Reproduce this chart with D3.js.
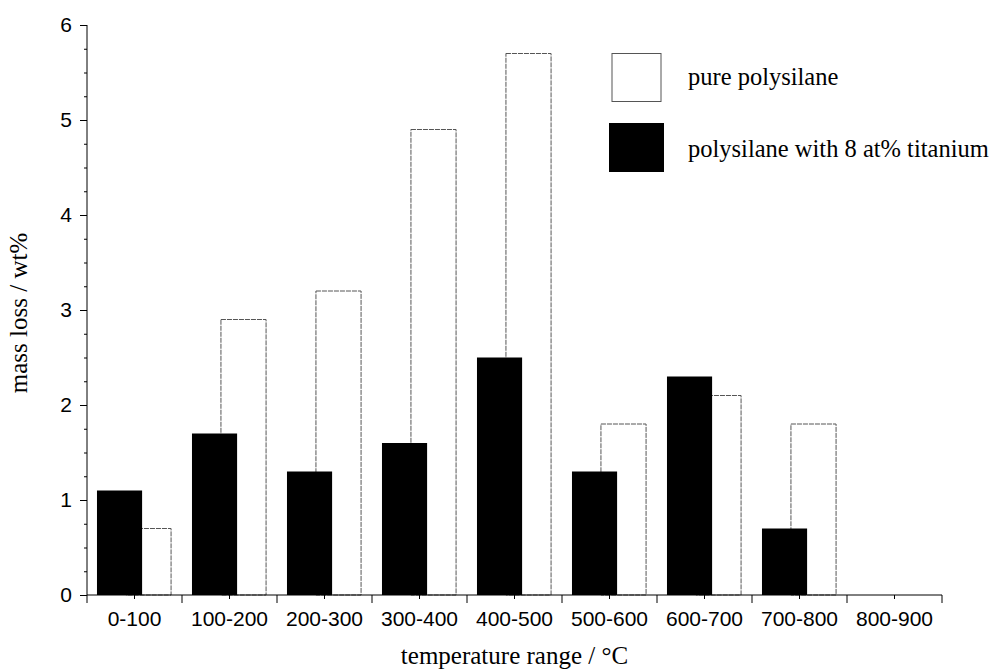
<!DOCTYPE html>
<html>
<head>
<meta charset="utf-8">
<script src="https://cdnjs.cloudflare.com/ajax/libs/d3/7.8.5/d3.min.js"></script>
<style>
  body { margin: 0; background: #fff; }
  svg { display: block; }
</style>
</head>
<body>
<div id="container"></div>
<script>
var width = 1003;
var height = 671;

var categories = ["0-100", "100-200", "200-300", "300-400", "400-500", "500-600", "600-700", "700-800", "800-900"];
var pureValues = [0.7, 2.9, 3.2, 4.9, 5.7, 1.8, 2.1, 1.8, 0];
var titaniumValues = [1.1, 1.7, 1.3, 1.6, 2.5, 1.3, 2.3, 0.7, 0];
var yTicks = [0, 1, 2, 3, 4, 5, 6];
var seriesNames = ["pure polysilane", "polysilane with 8 at% titanium"];

var margin = {left: 87, right: 61, top: 25, bottom: 76};

const SVG = d3.select("#container")
              .append("svg")
              .attr("width", width)
              .attr("height", height);

const x = d3.scaleBand()
            .domain(categories)
            .range([margin.left, width - margin.right])
            .padding(0);

const y = d3.scaleLinear()
            .domain([0, 6])
            .range([height - margin.bottom, margin.top]);

var bw = x.bandwidth();

// white bars behind
SVG.selectAll(".pure")
   .data(categories)
   .enter()
   .append("rect")
   .attr("class", "pure")
   .attr("x", (d) => x(d) + bw * 0.41)
   .attr("width", bw * 0.475)
   .attr("y", (d, i) => y(pureValues[i]))
   .attr("height", (d, i) => y(0) - y(pureValues[i]))
   .attr("fill", "white")
   .attr("stroke", "#555")
   .attr("stroke-width", 1)
   .attr("stroke-dasharray", "5,1");

// black bars in front
SVG.selectAll(".ti")
   .data(categories)
   .enter()
   .append("rect")
   .attr("class", "ti")
   .attr("x", (d) => x(d) + bw * 0.105)
   .attr("width", bw * 0.475)
   .attr("y", (d, i) => y(titaniumValues[i]))
   .attr("height", (d, i) => y(0) - y(titaniumValues[i]))
   .attr("fill", "black");

// y axis
const yAxis = SVG.append("g")
                 .attr("transform", `translate(${margin.left},0)`)
                 .call(d3.axisLeft(y).tickValues(d3.range(0, 6.01, 0.25)).tickSize(3).tickFormat(""));
yAxis.select(".domain").attr("d", `M0,${y(6)}V${y(0)}`);

SVG.append("g")
   .attr("transform", `translate(${margin.left},0)`)
   .call(d3.axisLeft(y).tickValues(yTicks).tickSize(7).tickPadding(8).tickFormat(d3.format("d")))
   .call(g => g.select(".domain").remove())
   .selectAll("text")
   .style("font-family", "Liberation Sans, Arial, sans-serif")
   .style("font-size", "21px")
   .attr("fill", "black");

// x axis
const xAxisG = SVG.append("g")
                  .attr("transform", `translate(0,${y(0)})`);
xAxisG.append("line")
      .attr("x1", margin.left)
      .attr("x2", width - margin.right)
      .attr("stroke", "black");
var boundaries = categories.map((d) => x(d)).concat([x(categories[categories.length - 1]) + bw]);
xAxisG.selectAll(".major")
      .data(boundaries)
      .enter()
      .append("line")
      .attr("x1", (d) => d)
      .attr("x2", (d) => d)
      .attr("y2", 8)
      .attr("stroke", "black");
xAxisG.selectAll(".minor")
      .data(categories)
      .enter()
      .append("line")
      .attr("x1", (d) => x(d) + bw / 2)
      .attr("x2", (d) => x(d) + bw / 2)
      .attr("y2", 4)
      .attr("stroke", "black");
xAxisG.selectAll(".lbl")
      .data(categories)
      .enter()
      .append("text")
      .attr("x", (d) => x(d) + bw / 2)
      .attr("y", 31)
      .attr("text-anchor", "middle")
      .style("font-family", "Liberation Sans, Arial, sans-serif")
      .style("font-size", "21px")
      .text((d) => d);

// axis titles
SVG.append("text")
   .attr("x", (margin.left + width - margin.right) / 2)
   .attr("y", 664)
   .attr("text-anchor", "middle")
   .style("font-family", "Liberation Serif, Times New Roman, serif")
   .style("font-size", "25px")
   .text("temperature range / \u00b0C");

SVG.append("text")
   .attr("transform", `translate(27,${(y(0) + y(6)) / 2 + 3}) rotate(-90)`)
   .attr("text-anchor", "middle")
   .style("font-family", "Liberation Serif, Times New Roman, serif")
   .style("font-size", "25px")
   .text("mass loss / wt%");

// legend
const LEGEND = SVG.append("g");
LEGEND.append("rect")
      .attr("x", 612).attr("y", 53.5)
      .attr("width", 49).attr("height", 48)
      .attr("fill", "white").attr("stroke", "#555");
LEGEND.append("rect")
      .attr("x", 609).attr("y", 123)
      .attr("width", 55).attr("height", 49)
      .attr("fill", "black");
LEGEND.selectAll(".lt")
      .data(seriesNames)
      .enter()
      .append("text")
      .attr("x", 688)
      .attr("y", (d, i) => i == 0 ? 85 : 157)
      .style("font-family", "Liberation Serif, Times New Roman, serif")
      .style("font-size", "24.5px")
      .text((d) => d);
</script>
</body>
</html>
